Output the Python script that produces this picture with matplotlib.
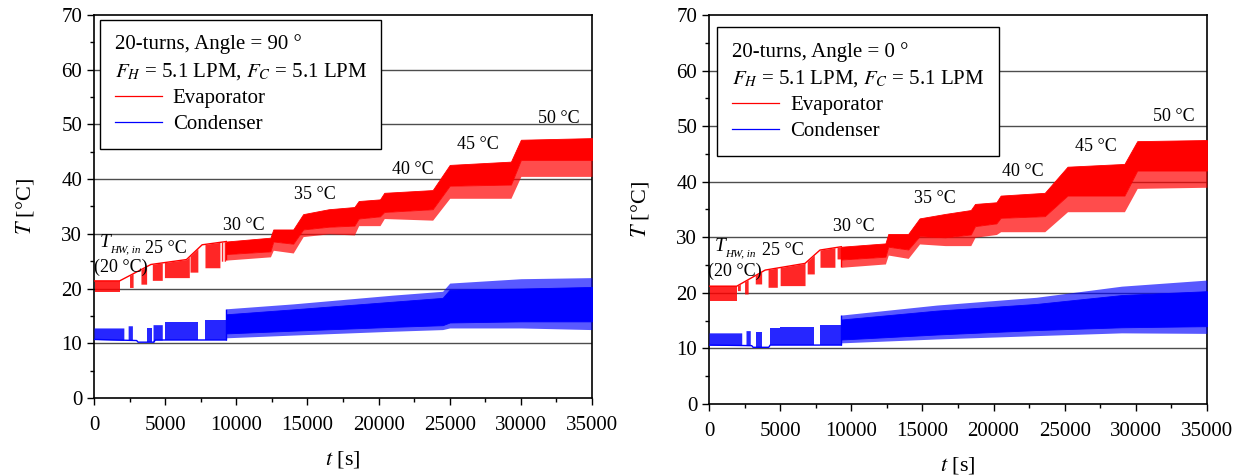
import numpy as np
import matplotlib
matplotlib.use("Agg")
import matplotlib.pyplot as plt
from matplotlib.lines import Line2D

plt.rcParams['font.family'] = ['Liberation Serif', 'DejaVu Serif']
plt.rcParams['mathtext.fontset'] = 'stix'

RED = '#ff0000'
BLUE = '#0000ff'

# ---------------- Panel A: Angle = 90 deg ----------------
a_title = "20-turns, Angle = 90 °"
# Evaporator, early stepwise part (upper edge)
a_evap_early_t = [0, 1800, 4000, 6500, 7600, 9300]
a_evap_early_T = [21.4, 21.4, 24.4, 25.3, 28.0, 28.6]
# Evaporator early spike blocks: (start, end, lowest value)
a_evap_blocks = [(60, 1800, 19.3), (2500, 2750, 20.2), (3300, 3700, 20.8),
                 (4100, 4800, 21.5), (4950, 6700, 22.0), (6750, 7300, 23.0),
                 (7800, 8850, 23.8), (8950, 9050, 25.0), (9150, 9250, 25.0)]
# Evaporator dense band after 9300 s
a_evap_t = [9300, 12400, 12600, 14000, 14700, 16500, 18300, 18600, 20100, 20400,
            23800, 25000, 29300, 30000, 35000]
a_evap_top = [28.6, 29.3, 30.8, 30.8, 33.6, 34.5, 34.9, 36.0, 36.3, 37.5,
              38.0, 42.6, 43.2, 47.2, 47.5]
a_evap_core = [26.3, 26.8, 28.6, 28.2, 30.8, 31.3, 31.5, 32.8, 33.2, 34.0,
               34.5, 38.8, 39.0, 43.5, 43.5]
a_evap_min = [25.2, 25.8, 27.0, 26.5, 29.5, 30.0, 29.8, 31.5, 31.5, 32.8,
              32.5, 36.5, 36.5, 40.5, 40.5]
# Condenser early part: base line and spike blocks (start, end, highest value)
a_cond_base_t = [0, 3000, 3100, 4200, 4300, 9300]
a_cond_base_T = [10.7, 10.5, 10.2, 10.2, 10.6, 10.6]
a_cond_blocks = [(0, 2100, 12.8), (2400, 2700, 13.2), (3700, 4100, 12.8),
                 (4150, 4800, 13.4), (5000, 7300, 13.8), (7800, 9250, 14.3)]
# Condenser band after 9300 s
a_cond_t = [9300, 14000, 21000, 24500, 25000, 30000, 35000]
a_cond_low = [11.8, 12.3, 13.0, 13.3, 13.8, 14.0, 14.0]
a_cond_high = [15.3, 16.2, 17.6, 18.3, 19.8, 20.0, 20.3]
a_cond_max = [16.3, 17.2, 18.8, 19.5, 21.0, 21.8, 22.0]
a_cond_min = [11.0, 11.5, 12.2, 12.5, 12.8, 12.8, 12.5]
# Step annotations
a_ann_text = ["25 °C", "30 °C", "35 °C", "40 °C", "45 °C", "50 °C"]
a_ann_t = [5030, 10550, 15500, 22400, 27000, 32700]
a_ann_T = [27.4, 31.6, 37.1, 41.7, 46.4, 51.1]
a_T_pos = (420, 28.4)
a_sub_pos = (1150, 27.1)
a_20_pos = (1900, 23.8)

# ---------------- Panel B: Angle = 0 deg ----------------
b_title = "20-turns, Angle = 0 °"
b_evap_early_t = [0, 1950, 3950, 6750, 7800, 9300]
b_evap_early_T = [21.2, 21.2, 24.1, 25.3, 27.7, 28.3]
b_evap_blocks = [(50, 1950, 18.6), (2000, 2200, 20.4), (2500, 2750, 19.8),
                 (3250, 3700, 21.6), (4150, 4800, 21.0), (5000, 6750, 21.3),
                 (6900, 7400, 23.4), (7800, 8850, 24.6), (9000, 9250, 26.1)]
b_evap_t = [9300, 12400, 12600, 14000, 14800, 16600, 18400, 18700, 20200, 20500,
            23600, 25200, 29200, 30100, 35000]
b_evap_top = [28.3, 28.9, 30.6, 30.6, 33.4, 34.2, 34.9, 36.0, 36.3, 37.5,
              38.0, 42.7, 43.2, 47.3, 47.5]
b_evap_core = [26.0, 26.5, 28.3, 27.8, 30.2, 30.0, 30.5, 32.0, 32.5, 33.5,
               33.8, 37.5, 37.5, 42.0, 42.0]
b_evap_min = [24.6, 25.2, 26.8, 26.2, 28.8, 28.5, 28.5, 30.0, 30.5, 31.0,
              31.0, 34.6, 34.6, 38.8, 39.0]
b_cond_base_t = [0, 3000, 3100, 4200, 4300, 9300]
b_cond_base_T = [10.6, 10.5, 10.2, 10.2, 10.6, 10.6]
b_cond_blocks = [(0, 2300, 12.8), (2600, 2900, 13.2), (3300, 3700, 13.0),
                 (4300, 5000, 13.6), (5000, 7400, 13.9), (7800, 9250, 14.2)]
b_cond_t = [9300, 16000, 23000, 29000, 35000]
b_cond_low = [11.6, 12.5, 13.3, 13.8, 14.0]
b_cond_high = [15.2, 16.8, 18.0, 19.6, 20.3]
b_cond_max = [16.0, 17.8, 19.2, 21.2, 22.3]
b_cond_min = [11.0, 11.7, 12.3, 12.8, 12.7]
b_ann_text = ["25 °C", "30 °C", "35 °C", "40 °C", "45 °C", "50 °C"]
b_ann_t = [5200, 10190, 15900, 22050, 27200, 32650]
b_ann_T = [27.7, 31.9, 37.0, 41.8, 46.3, 51.7]
b_T_pos = (420, 28.3)
b_sub_pos = (1150, 27.0)
b_20_pos = (1830, 23.8)

flow_text = "$F_H$ = 5.1 LPM, $F_C$ = 5.1 LPM"
series_names = ["Evaporator", "Condenser"]

FS = 15


def block_fill(ax, line_t, line_T, blocks, color, alpha, above):
    line_t = np.asarray(line_t, float)
    for t0, t1, v in blocks:
        inner = line_t[(line_t > t0) & (line_t < t1)]
        tt = np.concatenate([[t0], inner, [t1]])
        edge = np.interp(tt, line_t, line_T)
        if above:
            ax.fill_between(tt, edge, v, color=color, alpha=alpha, lw=0, zorder=3)
        else:
            ax.fill_between(tt, v, edge, color=color, alpha=alpha, lw=0, zorder=3)


def panel(ax, title, e_et, e_eT, e_blocks, e_t, e_top, e_core, e_min,
          c_bt, c_bT, c_blocks, c_t, c_low, c_high, c_max, c_min,
          ann_text, ann_t, ann_T, tpos, subpos, t20, leg_x, leg_y):
    # evaporator
    ax.plot(e_et, e_eT, color=RED, lw=1.0, zorder=4)
    block_fill(ax, e_et, e_eT, e_blocks, RED, 0.85, above=False)
    ax.fill_between(e_t, e_min, e_core, color=RED, alpha=0.7, lw=0, zorder=3)
    ax.fill_between(e_t, e_core, e_top, color=RED, lw=0.6, zorder=3)
    ax.vlines(e_t[0], e_min[0], e_top[0], color=RED, lw=1, zorder=3)
    # condenser
    ax.plot(c_bt, c_bT, color=BLUE, lw=1.0, zorder=4)
    block_fill(ax, c_bt, c_bT, c_blocks, BLUE, 0.85, above=True)
    ax.fill_between(c_t, c_min, c_max, color=BLUE, alpha=0.65, lw=0, zorder=3)
    ax.fill_between(c_t, c_low, c_high, color=BLUE, lw=0.6, zorder=3)
    ax.vlines(c_t[0], c_bT[-1], c_max[0], color=BLUE, lw=1, zorder=3)

    for s, x, y in zip(ann_text, ann_t, ann_T):
        ax.text(x, y, s, ha='center', va='center', fontsize=13, zorder=5)
    ax.text(tpos[0], tpos[1], "T", ha='left', va='center', fontsize=14,
            style='italic', zorder=5)
    ax.text(subpos[0], subpos[1], "HW, in", ha='left', va='center', fontsize=8,
            style='italic', zorder=5)
    ax.text(t20[0], t20[1], "(20 °C)", ha='center', va='center', fontsize=13, zorder=5)

    ax.set_xlim(0, 35000)
    ax.set_ylim(0, 70)
    ax.set_xticks(np.arange(0, 35001, 5000))
    ax.set_xticks(np.arange(0, 35001, 2500), minor=True)
    ax.set_yticks(np.arange(0, 71, 10))
    ax.set_yticks(np.arange(0, 71, 5), minor=True)
    ax.tick_params(which='both', direction='out', top=False, right=False,
                   labelsize=FS, width=1)
    ax.tick_params(axis='x', which='major', pad=8)
    ax.tick_params(which='major', length=5)
    ax.tick_params(which='minor', length=3)
    for y in range(10, 70, 10):
        ax.axhline(y, color='0.3', lw=1.0, zorder=1)
    for sp in ax.spines.values():
        sp.set_linewidth(1.2)
    ax.set_xlabel(r"$t$ [s]", fontsize=16, labelpad=10)
    ax.set_ylabel(r"$T$ [°C]", fontsize=16, labelpad=18)

    handles = [Line2D([], [], color=RED, lw=0.9), Line2D([], [], color=BLUE, lw=0.9)]
    leg = ax.legend(handles, series_names, loc='upper left', bbox_to_anchor=(leg_x, leg_y),
                    title=title + "\n" + flow_text, fontsize=FS, title_fontsize=FS,
                    alignment='left', frameon=True, fancybox=False, framealpha=1,
                    edgecolor='black', handlelength=2.3, handletextpad=0.5,
                    labelspacing=0.3, borderpad=0.7, borderaxespad=0)
    leg.get_title().set_linespacing(1.45)
    leg.get_frame().set_linewidth(1.0)
    leg.set_zorder(6)


fig = plt.figure(figsize=(12.43, 4.76), dpi=100)
ax1 = fig.add_axes([0.0756, 0.1639, 0.4007, 0.8046])
ax2 = fig.add_axes([0.5704, 0.1513, 0.4006, 0.8172])

panel(ax1, a_title, a_evap_early_t, a_evap_early_T, a_evap_blocks, a_evap_t, a_evap_top,
      a_evap_core, a_evap_min, a_cond_base_t, a_cond_base_T, a_cond_blocks, a_cond_t,
      a_cond_low, a_cond_high, a_cond_max, a_cond_min, a_ann_text, a_ann_t, a_ann_T,
      a_T_pos, a_sub_pos, a_20_pos, 0.012, 0.987)
panel(ax2, b_title, b_evap_early_t, b_evap_early_T, b_evap_blocks, b_evap_t, b_evap_top,
      b_evap_core, b_evap_min, b_cond_base_t, b_cond_base_T, b_cond_blocks, b_cond_t,
      b_cond_low, b_cond_high, b_cond_max, b_cond_min, b_ann_text, b_ann_t, b_ann_T,
      b_T_pos, b_sub_pos, b_20_pos, 0.016, 0.969)

fig.savefig("out.png", dpi=100)
